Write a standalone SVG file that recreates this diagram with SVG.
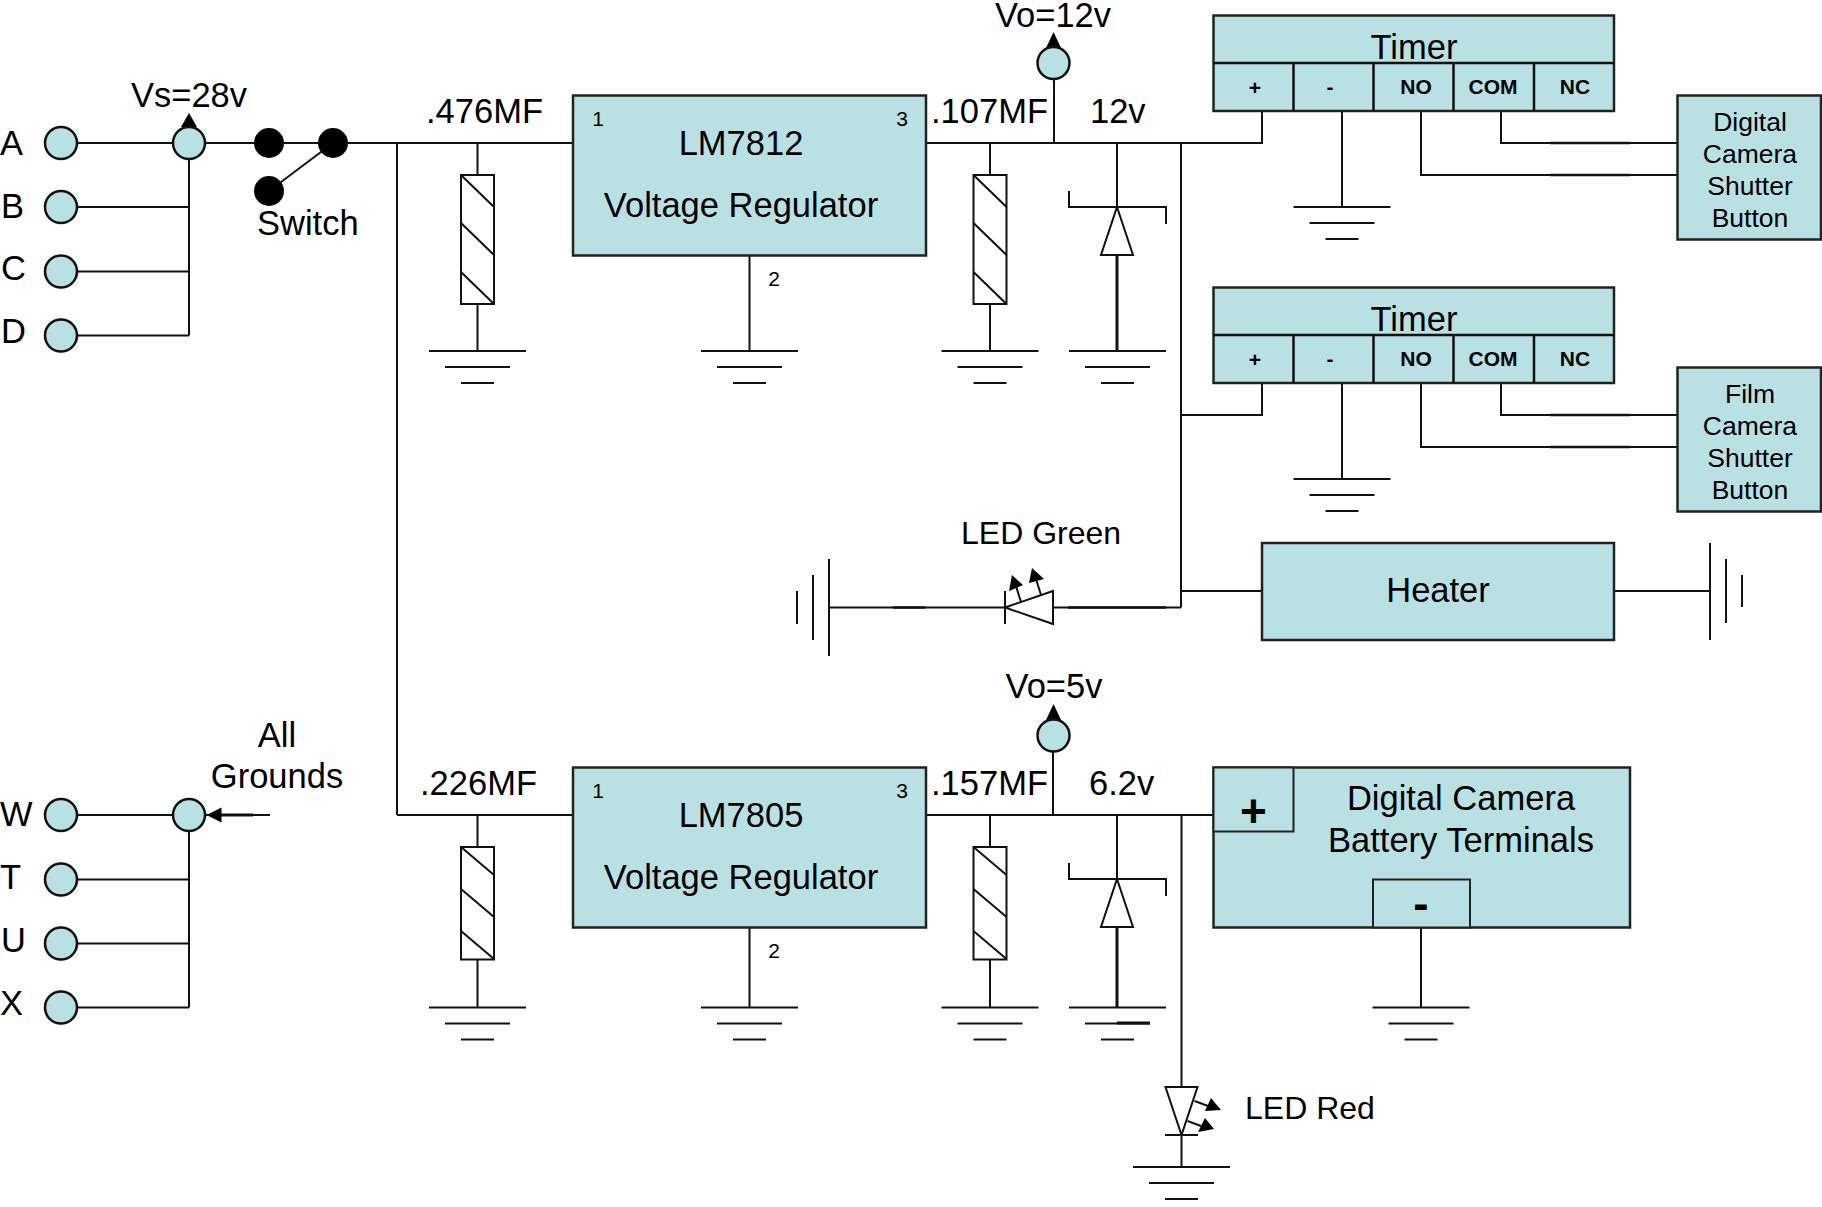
<svg xmlns="http://www.w3.org/2000/svg" width="1822" height="1207" viewBox="0 0 1822 1207">
<style>
text{font-family:"Liberation Sans",Arial,sans-serif;fill:#000;font-size:34.5px}
.m{text-anchor:middle}
.s{font-size:21px;text-anchor:middle}
.c{font-size:21px;font-weight:bold;text-anchor:middle}
.b{font-size:26.5px;text-anchor:middle}
.l{font-size:32px}
.w{fill:none;stroke:#111;stroke-width:2}
.t{fill:none;stroke:#111;stroke-width:3}
.o{fill:none;stroke:#111;stroke-width:2.600}
.box{fill:#b9e0e3;stroke:#222;stroke-width:2.5}
.pin{fill:#b9e0e3;stroke:#111;stroke-width:2.5}
.dot{fill:#000}
.sym{fill:#fff;stroke:#111;stroke-width:2}
.hd{fill:#000;stroke:none}
</style>
<defs>
<g id="gnd"><path class="w" d="M-48.5 0H48.5M-32.5 16H32.5M-16.5 32H16.5"/></g>
<g id="resTall"><rect class="sym" x="-16.5" y="0" width="33" height="129"/><path class="w" d="M-16.5 0L16.5 32M-16.5 48L16.5 80M-16.5 97L16.5 129"/></g>
<g id="resShort"><rect class="sym" x="-16.5" y="0" width="33" height="112.500"/><path class="w" d="M-16.5 0L16.5 28M-16.5 42L16.5 70M-16.5 84L16.5 112"/></g>
<g id="zener"><path class="w" d="M-48 -16V0H49V17"/><path class="sym" d="M0 0L16 48H-16Z"/></g>
</defs>
<g id="connectors">
<path class="w" d="M61 143H573M61 207H189M61 271.500H189M61 335.500H189M189 143V335.500"/>
<path class="w" d="M333 143L269 191"/>
<path class="w" d="M397 143V815M477.500 143V175M477.500 304V351"/>
<path class="w" d="M749.500 255V351"/>
<path class="w" d="M926 143H1262V111M1054 143V79M990 143V175M990 304V351M1117 143V207"/>
<path class="t" d="M1117 255V351"/>
<path class="w" d="M1181 143V607.500M1342 111V207"/>
<path class="w" d="M1421 111V175H1677.500M1501 111V143H1677.500"/>
<path class="o" d="M1550 143H1630M1550 175H1630"/>
<path class="w" d="M1181 415H1262V383M1342 383V479M1421 383V447H1677.500M1501 383V415H1677.500"/>
<path class="o" d="M1550 415H1630M1550 447H1630"/>
<path class="w" d="M829 607.500H1005M1053 607.500H1181M1181 591H1262M1614 591H1710"/>
<path class="o" d="M893 607.500H925M1068 607.500H1166"/>
<path class="w" d="M61 815H189M397 815H573M61 879.500H189M61 943.500H189M61 1007.500H189M189 815V1007.500"/>
<path class="w" d="M270 815H206"/>
<path class="t" d="M221 815H253"/>
<path class="w" d="M477.500 815V847M477.500 959.500V1007.500M749.500 927.500V1007.500"/>
<path class="w" d="M926 815H1213M1053 815V751M990 815V847M990 959.500V1007.500M1117 815V879"/>
<path class="t" d="M1117 927.500V1007.500"/>
<path class="w" d="M1181.500 815V1087M1181.500 1135V1167M1421 927.500V1007.500"/>
<path class="t" d="M1117 1023H1150"/>
</g>
<g id="input-labels-top"><text x="0" y="155">A</text><text x="1" y="218">B</text><text x="1" y="280">C</text><text x="1" y="343">D</text></g>
<g id="input-labels-bottom"><text x="0" y="826">W</text><text x="0" y="889">T</text><text x="1" y="952">U</text><text x="0" y="1015">X</text></g>
<g id="pin-A"><circle class="pin" cx="61" cy="143" r="16"/></g>
<g id="pin-B"><circle class="pin" cx="61" cy="207" r="16"/></g>
<g id="pin-C"><circle class="pin" cx="61" cy="271.500" r="16"/></g>
<g id="pin-D"><circle class="pin" cx="61" cy="335.500" r="16"/></g>
<g id="pin-W"><circle class="pin" cx="61" cy="815" r="16"/></g>
<g id="pin-T"><circle class="pin" cx="61" cy="879.500" r="16"/></g>
<g id="pin-U"><circle class="pin" cx="61" cy="943.500" r="16"/></g>
<g id="pin-X"><circle class="pin" cx="61" cy="1007.500" r="16"/></g>
<g id="vs-junction"><polygon class="hd" points="189,113 181,127 197,127"/><circle class="pin" cx="189" cy="143" r="16"/><text class="m" x="189" y="107">Vs=28v</text></g>
<g id="all-grounds"><polygon class="hd" points="206.500,815 221.500,807.500 221.500,822.500"/><circle class="pin" cx="189" cy="815" r="16"/><text class="m" x="277" y="747">All</text><text class="m" x="277" y="788">Grounds</text></g>
<g id="switch"><circle class="dot" cx="269" cy="143" r="15"/><circle class="dot" cx="333" cy="143" r="15"/><circle class="dot" cx="269" cy="191" r="15"/><text x="257" y="235">Switch</text></g>
<g id="c1"><use href="#resTall" x="477.500" y="175"/><use href="#gnd" x="477.500" y="351"/><text x="426" y="123">.476MF</text></g>
<g id="lm7812"><rect class="box" x="573" y="95.500" width="353" height="160"/><text class="s" x="598" y="126">1</text><text class="s" x="902" y="126">3</text><text class="s" x="774" y="286">2</text><text class="m" x="741" y="155">LM7812</text><text class="m" x="741" y="217">Voltage Regulator</text><use href="#gnd" x="749.500" y="351"/></g>
<g id="c2"><use href="#resTall" x="990" y="175"/><use href="#gnd" x="990" y="351"/><text x="931" y="123">.107MF</text></g>
<g id="vo12"><polygon class="hd" points="1053.500,32 1046,48 1061,48"/><circle class="pin" cx="1053.500" cy="63" r="16"/><text class="m" x="1053" y="27">Vo=12v</text></g>
<g id="zener12"><use href="#zener" x="1117" y="207"/><use href="#gnd" x="1117.500" y="351"/><text x="1090" y="123">12v</text></g>
<g id="timer1">
<rect class="box" x="1213.500" y="15.500" width="400.500" height="95.500"/>
<path class="w" style="stroke-width:2.500" d="M1213.500 63H1614M1293.500 63V111M1373.500 63V111M1453.500 63V111M1534 63V111"/>
<text class="m" x="1414" y="59">Timer</text>
<text class="c" x="1255" y="95">+</text><text class="c" x="1330" y="94">-</text><text class="c" x="1416" y="94">NO</text><text class="c" x="1493" y="94">COM</text><text class="c" x="1575" y="94">NC</text>
<use href="#gnd" x="1342" y="207"/>
</g>
<g id="timer2">
<rect class="box" x="1213.500" y="287.500" width="400.500" height="95.500"/>
<path class="w" style="stroke-width:2.500" d="M1213.500 335H1614M1293.500 335V383M1373.500 335V383M1453.500 335V383M1534 335V383"/>
<text class="m" x="1414" y="331">Timer</text>
<text class="c" x="1255" y="367">+</text><text class="c" x="1330" y="366">-</text><text class="c" x="1416" y="366">NO</text><text class="c" x="1493" y="366">COM</text><text class="c" x="1575" y="366">NC</text>
<use href="#gnd" x="1342" y="479"/>
</g>
<g id="digital-shutter"><rect class="box" x="1677.500" y="95.500" width="143.500" height="144"/><text class="b" x="1750" y="131">Digital</text><text class="b" x="1750" y="163">Camera</text><text class="b" x="1750" y="195">Shutter</text><text class="b" x="1750" y="227">Button</text></g>
<g id="film-shutter"><rect class="box" x="1677.500" y="367.500" width="143.500" height="144"/><text class="b" x="1750" y="403">Film</text><text class="b" x="1750" y="435">Camera</text><text class="b" x="1750" y="467">Shutter</text><text class="b" x="1750" y="499">Button</text></g>
<g id="led-green">
<text class="l" x="961" y="544">LED Green</text>
<path class="sym" d="M1005 607.500L1053 591V624Z"/><path class="w" d="M1005 591V624M1021 602L1015 583M1041 595L1036 579"/>
<polygon class="hd" points="1012,575 1009,591 1023,585"/><polygon class="hd" points="1032,568 1029,583 1044,579"/>
<path class="w" d="M829 559V656M813 575V640M797 591V624"/>
</g>
<g id="heater"><rect class="box" x="1262" y="543" width="352" height="97"/><text class="m" x="1438" y="602">Heater</text><path class="w" d="M1710 543V640M1726 559V623M1742 575V607"/></g>
<g id="c3"><use href="#resShort" x="477.500" y="847"/><use href="#gnd" x="477.500" y="1007.500"/><text x="420" y="795">.226MF</text></g>
<g id="lm7805"><rect class="box" x="573" y="767.500" width="353" height="160"/><text class="s" x="598" y="798">1</text><text class="s" x="902" y="798">3</text><text class="s" x="774" y="958">2</text><text class="m" x="741" y="827">LM7805</text><text class="m" x="741" y="889">Voltage Regulator</text><use href="#gnd" x="749.500" y="1007.500"/></g>
<g id="c4"><use href="#resShort" x="990" y="847"/><use href="#gnd" x="990" y="1007.500"/><text x="931" y="795">.157MF</text></g>
<g id="vo5"><polygon class="hd" points="1053.500,704 1046,720 1061,720"/><circle class="pin" cx="1053.500" cy="735.500" r="16"/><text class="m" x="1054" y="698">Vo=5v</text></g>
<g id="zener62"><use href="#zener" x="1117" y="879"/><use href="#gnd" x="1117.500" y="1007.500"/><text x="1089" y="795">6.2v</text></g>
<g id="battery">
<rect class="box" x="1213.500" y="767.500" width="416.500" height="160"/>
<rect class="box" style="stroke-width:2" x="1213.500" y="767.500" width="80" height="64"/>
<rect class="box" style="stroke-width:2" x="1373" y="879.500" width="97" height="48"/>
<text class="m" style="font-size:46px;font-weight:bold" x="1253.500" y="827">+</text>
<text class="m" style="font-size:46px;font-weight:bold" x="1421" y="919">-</text>
<text class="m" x="1461" y="810">Digital Camera</text><text class="m" x="1461" y="852">Battery Terminals</text>
<use href="#gnd" x="1421" y="1007.500"/>
</g>
<g id="led-red">
<path class="sym" d="M1165.500 1087H1197.500L1181.500 1135Z"/><path class="w" d="M1165 1135H1198M1194.500 1101L1208 1106M1187.500 1121L1201 1126"/>
<polygon class="hd" points="1221,1110 1205,1111 1211,1098"/><polygon class="hd" points="1214,1129 1198,1132 1205,1118"/>
<use href="#gnd" x="1181.500" y="1167"/>
<text class="l" x="1245" y="1119">LED Red</text>
</g>
</svg>
